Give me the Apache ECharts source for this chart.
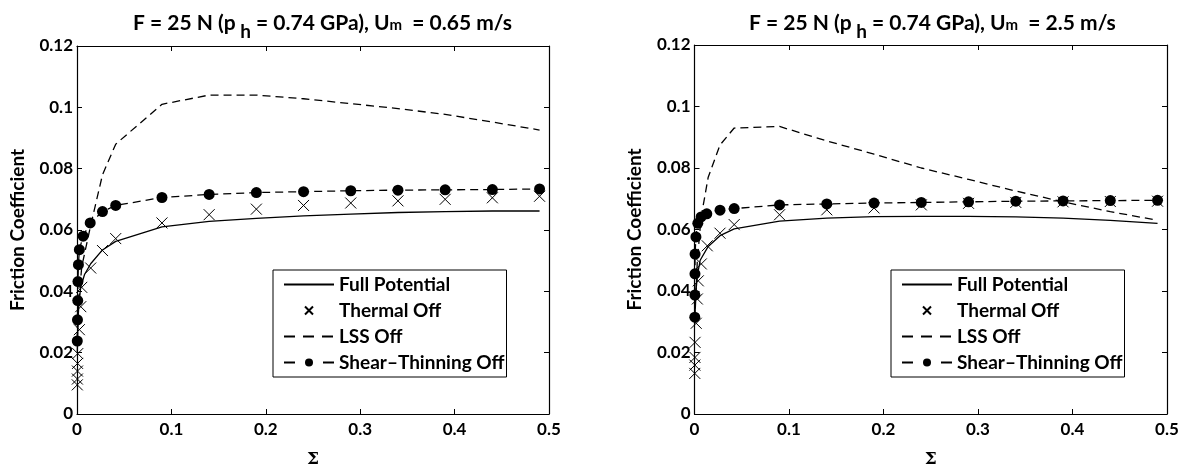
<!DOCTYPE html>
<html><head><meta charset="utf-8">
<script src="https://cdn.jsdelivr.net/npm/echarts@6/dist/echarts.min.js"></script>
<style>html,body{margin:0;padding:0;background:#fff}#c{width:1202px;height:473px}</style>
</head><body><div id="c"></div>
<script>
// ---- data ----
const seriesNames = ['Full Potential', 'Thermal Off', 'LSS Off', 'Shear\u2013Thinning Off'];
const xTicks = [0, 0.1, 0.2, 0.3, 0.4, 0.5];
const yTicks = [0, 0.02, 0.04, 0.06, 0.08, 0.1, 0.12];
const titleLeftSpeed = '0.65';
const titleRightSpeed = '2.5';

// Left plot (Um = 0.65 m/s)
const fullL_x = [0.0003,0.001,0.002,0.004,0.008,0.0145,0.027,0.041,0.09,0.14,0.19,0.24,0.29,0.34,0.39,0.44,0.49];
const fullL_y = [0.02,0.03,0.036,0.0415,0.0455,0.049,0.0535,0.0563,0.061,0.0628,0.0638,0.0646,0.0652,0.0657,0.066,0.0662,0.0662];
const thermalL_x = [0.0003,0.0004,0.0005,0.0006,0.0008,0.0025,0.004,0.005,0.0145,0.027,0.041,0.09,0.14,0.19,0.24,0.29,0.34,0.39,0.44,0.49];
const thermalL_y = [0.0095,0.0114,0.014,0.0165,0.0197,0.0275,0.035,0.0413,0.0476,0.0533,0.0572,0.0623,0.065,0.0668,0.068,0.0688,0.0695,0.070,0.0705,0.071];
const lssL_x = [0.0003,0.0015,0.005,0.0145,0.027,0.041,0.09,0.14,0.19,0.24,0.29,0.34,0.39,0.44,0.49];
const lssL_y = [0.024,0.035,0.048,0.0615,0.078,0.088,0.101,0.104,0.104,0.1028,0.1012,0.0996,0.0977,0.0952,0.0926];
const shearL_x = [0.0003,0.0005,0.0008,0.001,0.0015,0.0025,0.0065,0.014,0.027,0.041,0.09,0.14,0.19,0.24,0.29,0.34,0.39,0.44,0.49];
const shearL_y = [0.0238,0.0307,0.037,0.0432,0.0487,0.0536,0.058,0.0623,0.066,0.068,0.0706,0.0716,0.0722,0.0725,0.0728,0.073,0.0731,0.0732,0.0734];

// Right plot (Um = 2.5 m/s)
const fullR_x = [0.0003,0.001,0.003,0.006,0.0145,0.027,0.042,0.09,0.14,0.19,0.24,0.29,0.34,0.39,0.44,0.49];
const fullR_y = [0.03,0.038,0.045,0.05,0.0545,0.058,0.0602,0.0627,0.0637,0.0642,0.0643,0.0643,0.0641,0.0637,0.063,0.062];
const thermalR_x = [0.0003,0.0004,0.0005,0.0006,0.0018,0.003,0.004,0.0072,0.0135,0.027,0.042,0.09,0.14,0.19,0.24,0.29,0.34,0.39,0.44,0.49];
const thermalR_y = [0.0132,0.0159,0.0184,0.0233,0.0295,0.0374,0.0433,0.0488,0.0547,0.0588,0.0616,0.0648,0.0664,0.067,0.068,0.0685,0.0688,0.069,0.0691,0.0692];
const lssR_x = [0.0003,0.003,0.007,0.0145,0.027,0.042,0.09,0.14,0.19,0.24,0.29,0.34,0.39,0.44,0.49];
const lssR_y = [0.03,0.05,0.064,0.077,0.0875,0.093,0.0935,0.0888,0.0845,0.08,0.0763,0.0725,0.069,0.0658,0.063];
const shearR_x = [0.0003,0.0004,0.0005,0.0006,0.0015,0.0035,0.007,0.013,0.027,0.042,0.09,0.14,0.19,0.24,0.29,0.34,0.39,0.44,0.49];
const shearR_y = [0.0315,0.0387,0.0456,0.052,0.0576,0.062,0.0641,0.0651,0.0663,0.0668,0.068,0.0683,0.0686,0.0688,0.069,0.0692,0.0693,0.0694,0.0695];

// ---- chart ----
const FONT = 'Lato';
const zip = (xs, ys) => xs.map((x, i) => [x, ys[i]]);
const crossPath = 'path://M0,0L10,10M10,0L0,10';

function titleText(speed) {
  return '{a|F = 25 N (p}{s| h}{a| = 0.74 GPa), U}{m|m}{a|  = ' + speed + ' m/s}';
}
const titleRich = {
  a: { fontFamily: FONT, fontWeight: 'bold', fontSize: 21, color: '#000' },
  s: { fontFamily: FONT, fontWeight: 'bold', fontSize: 19, color: '#000', padding: [17, 0, 0, 0] },
  m: { fontFamily: FONT, fontWeight: 'bold', fontSize: 15, color: '#000', padding: [5, 0, 0, 0] }
};

const grids = [
  { left: 77, width: 472, top: 46, height: 377 },
  { left: 694.5, width: 472.5, top: 45, height: 377 }
];

function xAxes(gi) {
  const base = {
    gridIndex: gi, type: 'value', min: 0, max: 0.5, interval: 0.1,
    splitLine: { show: false },
    axisLine: { show: true, onZero: false, lineStyle: { color: '#000', width: 1.2 } },
    axisTick: { show: true, inside: true, length: 5, lineStyle: { color: '#000' } }
  };
  return [
    Object.assign({}, base, {
      position: 'bottom',
      axisLabel: { color: '#000', fontFamily: FONT, fontWeight: 'bold', fontSize: 17, margin: 7,
        formatter: v => String(+v.toFixed(2)) },
      name: '\u03A3', nameLocation: 'middle', nameGap: 37,
      nameTextStyle: { color: '#000', fontFamily: 'DejaVu Serif', fontWeight: 'bold', fontSize: 17 }
    }),
    Object.assign({}, base, { position: 'top', axisLabel: { show: false } })
  ];
}
function yAxes(gi) {
  const base = {
    gridIndex: gi, type: 'value', min: 0, max: 0.12, interval: 0.02,
    splitLine: { show: false },
    axisLine: { show: true, onZero: false, lineStyle: { color: '#000', width: 1.2 } },
    axisTick: { show: true, inside: true, length: 5, lineStyle: { color: '#000' } }
  };
  return [
    Object.assign({}, base, {
      position: 'left',
      axisLabel: { color: '#000', fontFamily: FONT, fontWeight: 'bold', fontSize: 17, margin: 4,
        formatter: v => String(+v.toFixed(2)) },
      name: 'Friction Coefficient', nameLocation: 'middle', nameGap: 50,
      nameTextStyle: { color: '#000', fontFamily: FONT, fontWeight: 'bold', fontSize: 19 }
    }),
    Object.assign({}, base, { position: 'right', axisLabel: { show: false } })
  ];
}

function makeSeries(axisIdx, full, thermal, lss, shear) {
  return [
    { name: seriesNames[0], type: 'line', xAxisIndex: axisIdx, yAxisIndex: axisIdx, data: full,
      symbol: 'none', lineStyle: { color: '#000', width: 1.3 }, itemStyle: { color: '#000', opacity: 0 }, z: 2 },
    { name: seriesNames[1], type: 'line', xAxisIndex: axisIdx, yAxisIndex: axisIdx, data: thermal,
      symbol: crossPath, symbolSize: 11, showAllSymbol: true,
      lineStyle: { color: '#000', width: 0, opacity: 0 },
      itemStyle: { color: 'rgba(0,0,0,0)', borderColor: '#000', borderWidth: 1 }, z: 3 },
    { name: seriesNames[2], type: 'line', xAxisIndex: axisIdx, yAxisIndex: axisIdx, data: lss,
      symbol: 'none', lineStyle: { color: '#000', width: 1.3, type: [8, 5] }, itemStyle: { color: '#000', opacity: 0 }, z: 2 },
    { name: seriesNames[3], type: 'line', xAxisIndex: axisIdx, yAxisIndex: axisIdx, data: shear,
      symbol: 'circle', symbolSize: 11, showAllSymbol: true,
      lineStyle: { color: '#000', width: 1.3, type: [8, 5] }, itemStyle: { color: '#000' }, z: 4 }
  ];
}

function legend(left) {
  return {
    left: left, top: 270, orient: 'vertical', itemWidth: 50, itemHeight: 10, itemGap: 7,
    padding: [5, 2, 5, 10], borderColor: '#000', borderWidth: 1, backgroundColor: '#fff',
    textStyle: { color: '#000', fontFamily: FONT, fontWeight: 'bold', fontSize: 19 },
    data: [
      { name: seriesNames[0] },
      { name: seriesNames[1] },
      { name: seriesNames[2], lineStyle: { type: [11, 8] } },
      { name: seriesNames[3], lineStyle: { type: [11, 28] } }
    ],
    selectedMode: false
  };
}

const chart = echarts.init(document.getElementById('c'), null, { renderer: 'canvas' });
chart.setOption({
  animation: false,
  backgroundColor: '#fff',
  title: [
    { text: titleText(titleLeftSpeed), left: 128, top: 0, textStyle: { rich: titleRich } },
    { text: titleText(titleRightSpeed), left: 744, top: 0, textStyle: { rich: titleRich } }
  ],
  grid: grids,
  xAxis: [...xAxes(0), ...xAxes(1)],
  yAxis: [...yAxes(0), ...yAxes(1)],
  legend: [legend(273), legend(891)],
  series: [
    ...makeSeries(0, zip(fullL_x, fullL_y), zip(thermalL_x, thermalL_y), zip(lssL_x, lssL_y), zip(shearL_x, shearL_y)),
    ...makeSeries(2, zip(fullR_x, fullR_y), zip(thermalR_x, thermalR_y), zip(lssR_x, lssR_y), zip(shearR_x, shearR_y))
  ]
});
</script></body></html>
